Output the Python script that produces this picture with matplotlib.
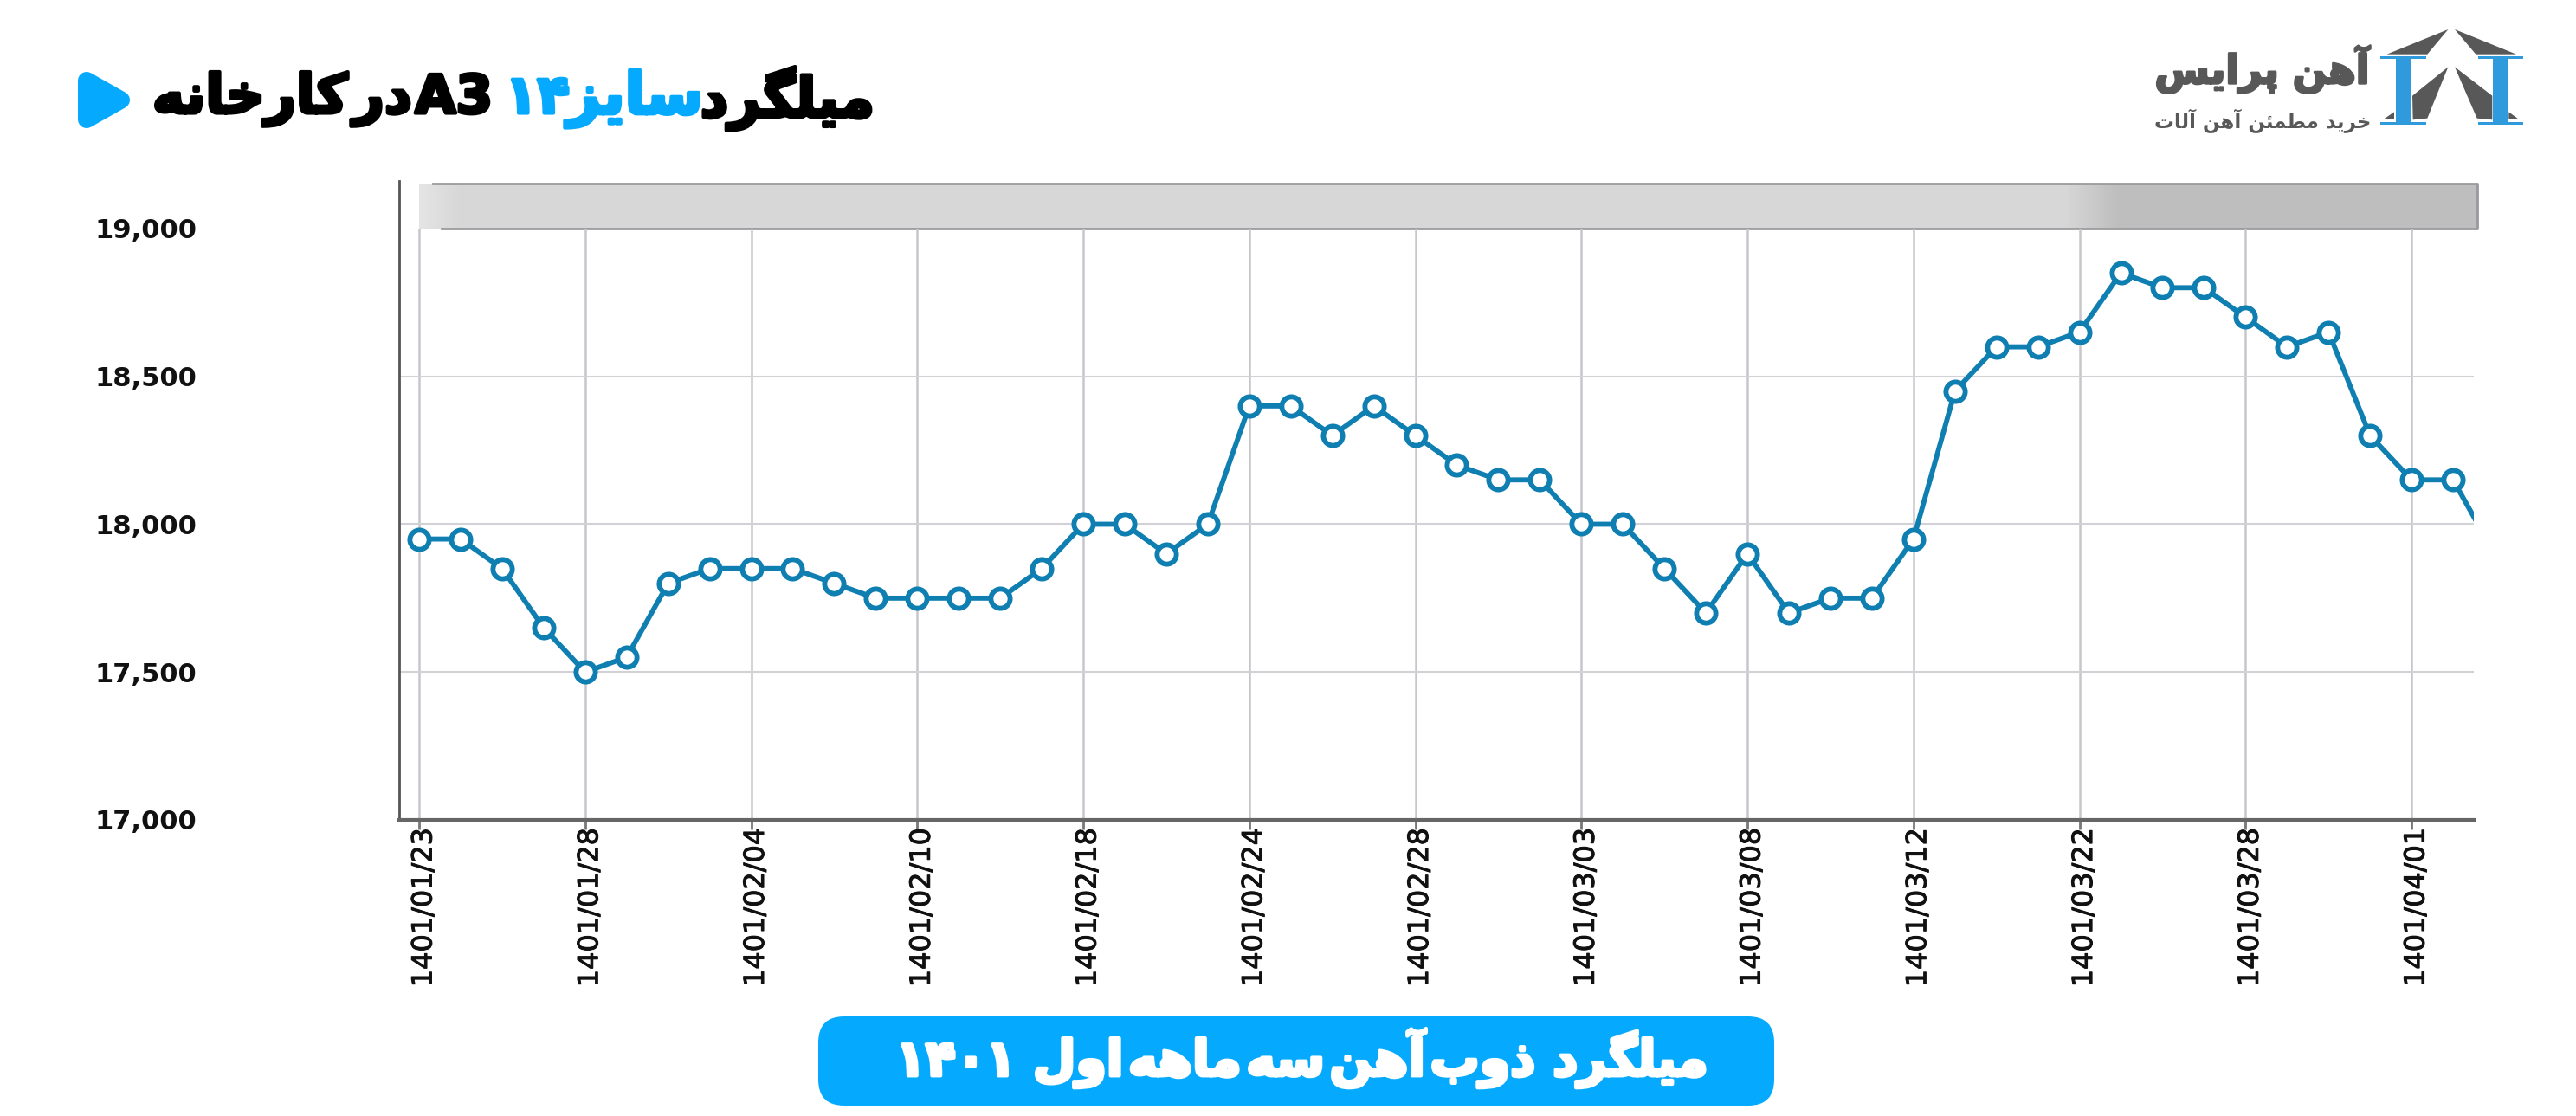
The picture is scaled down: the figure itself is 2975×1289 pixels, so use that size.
import unicodedata
import numpy as np
import matplotlib
matplotlib.use("Agg")
import matplotlib.pyplot as plt
import matplotlib.patheffects as pe
from matplotlib.patches import FancyBboxPatch, Polygon, Rectangle
from matplotlib.transforms import ScaledTranslation

W, H = 2975, 1289

# one value per point, a date label on every 4th point
prices = [17950, 17950, 17850, 17650, 17500, 17550, 17800, 17850, 17850, 17850,
          17800, 17750, 17750, 17750, 17750, 17850, 18000, 18000, 17900, 18000,
          18400, 18400, 18300, 18400, 18300, 18200, 18150, 18150, 18000, 18000,
          17850, 17700, 17900, 17700, 17750, 17750, 17950, 18450, 18600, 18600,
          18650, 18850, 18800, 18800, 18700, 18600, 18650, 18300, 18150, 18150,
          17900]
date_labels = ["1401/01/23", "1401/01/28", "1401/02/04", "1401/02/10", "1401/02/18",
               "1401/02/24", "1401/02/28", "1401/03/03", "1401/03/08", "1401/03/12",
               "1401/03/22", "1401/03/28", "1401/04/01"]
y_ticks = [17000, 17500, 18000, 18500, 19000]

BLUE = "#05A9FD"
LOGO_GRAY = "#585858"
LOGO_BLUE = "#2F9BDC"
LINE = "#0F7FB2"
RIGHT_ONLY = set("اآأدذرزژو")
GAP = "\u200a"


def form(ch, kind):
    try:
        return unicodedata.lookup(unicodedata.name(ch) + " " + kind + " FORM")
    except KeyError:
        return ch


# matplotlib does not shape arabic script, so pick the joined glyphs by hand
def fa(text):
    out = []
    for i, ch in enumerate(text):
        if not "\u0620" <= ch <= "\u06d5":
            out.append(ch)
            continue
        prev = text[i - 1] if i > 0 else " "
        nxt = text[i + 1] if i + 1 < len(text) else " "
        joins_prev = ("\u0620" <= prev <= "\u06d5") and prev not in RIGHT_ONLY
        joins_next = ("\u0620" <= nxt <= "\u06d5") and ch not in RIGHT_ONLY
        if joins_prev and joins_next:
            out.append(form(ch, "MEDIAL"))
        elif joins_prev:
            out.append(form(ch, "FINAL"))
        elif joins_next:
            out.append(form(ch, "INITIAL"))
        else:
            out.append(form(ch, "ISOLATED"))
    return "".join(out[::-1])


fig = plt.figure(figsize=(W / 100, H / 100), dpi=100, facecolor="white")

# overlay in pixel coordinates for header, band, logo and caption
bg = fig.add_axes([0, 0, 1, 1], zorder=0)
bg.axis("off")

# grey band above the plot
stops = np.interp(np.arange(2377), [0, 45, 1900, 1960, 2377], [228, 215, 215, 190, 190])
bg.imshow(stops[None, :], cmap="gray", vmin=0, vmax=255, aspect="auto",
          extent=(484, 2861, 264, 212))
bg.plot([500, 2861, 2861, 510], [212, 212, 264, 264], color="#9a9a9e", lw=2)
bg.set_xlim(0, W)
bg.set_ylim(H, 0)

# play triangle
bg.add_patch(Polygon([[100, 93], [140, 115.5], [100, 138]], closed=True,
                     fc=BLUE, ec=BLUE, lw=14.4, joinstyle="round"))


def head(x, txt, color, size=46):
    bg.text(x, 114, txt, ha="right", va="center", fontsize=size, color=color,
            fontweight="bold", family="DejaVu Sans",
            path_effects=[pe.withStroke(linewidth=3, foreground=color)])


head(1010, fa("میلگرد"), "black")
head(812, fa("سایز"), BLUE, 48)
head(658, "۱۴", BLUE, 44)
head(569, "A3", "black", 44)
head(476, fa("در" + GAP + "کارخانه"), "black", 45)

gray_parts = [[(50, 128), (262, 42), (190, 128)],
              [(285, 42), (498, 128), (358, 128)],
              [(262, 172), (190, 350), (140, 355), (138, 272)],
              [(285, 172), (415, 272), (415, 355), (362, 350)],
              [(40, 352), (75, 328), (75, 352)],
              [(472, 328), (505, 352), (472, 352)]]
for part in gray_parts:
    bg.add_patch(Polygon([(2740 + a / 3, 20 + b / 3) for a, b in part], fc=LOGO_GRAY, ec="none"))
for x0, x1, wx0, wx1 in [(28, 185, 80, 135), (365, 522, 418, 472)]:
    for y0, y1 in [(135, 145), (362, 372)]:
        bg.add_patch(Rectangle((2740 + x0 / 3, 20 + y0 / 3), (x1 - x0) / 3, (y1 - y0) / 3,
                               fc=LOGO_BLUE, ec="none"))
    bg.add_patch(Rectangle((2740 + wx0 / 3, 20 + 140 / 3), (wx1 - wx0) / 3, 225 / 3,
                           fc=LOGO_BLUE, ec="none"))
bg.text(2737, 80, fa("آهن پرایس"), ha="right", va="center", fontsize=33, color=LOGO_GRAY,
        fontweight="bold", family="DejaVu Sans",
        path_effects=[pe.withStroke(linewidth=2, foreground=LOGO_GRAY)])
bg.text(2738, 140, fa("خرید مطمئن آهن آلات"), ha="right", va="center", fontsize=16.5,
        color=LOGO_GRAY, fontweight="bold", family="DejaVu Sans")

# caption pill
bg.add_patch(FancyBboxPatch((945, 1174), 1104, 103, boxstyle="round,pad=0,rounding_size=30",
                            fc=BLUE, ec="none"))
caption = "۱۴۰۱ " + fa("میلگرد ذوب" + GAP + "آهن" + GAP + "سه" + GAP + "ماهه" + GAP + "اول")
bg.text(1504, 1222, caption, ha="center", va="center",
        fontsize=41, color="white", fontweight="bold", family="DejaVu Sans",
        path_effects=[pe.withStroke(linewidth=3, foreground="white")])

# chart: 17000 at y=947, 19000 at y=264, left spine at x=461, right end x=2857
ax = fig.add_axes([461 / W, 1 - 947 / H, (2857 - 461) / W, (947 - 264) / H], zorder=2)
ax.patch.set_alpha(0)
x = np.arange(len(prices))
ax.plot(x, prices, color=LINE, lw=4.2, marker="o", ms=16, mfc="white", mec=LINE, mew=4.2,
        clip_on=True, zorder=3)
ax.set_xlim(-0.48, 49.5)
ax.set_ylim(17000, 19000)
ax.set_xticks(x[::4][:len(date_labels)])
ax.set_xticklabels(date_labels, rotation=90, fontsize=23, color="#111111")
ax.set_yticks(y_ticks)
ax.set_yticklabels([f"{v:,}" for v in y_ticks], fontsize=22, fontweight="bold", color="#111111")
ax.tick_params(axis="x", length=8, width=2, color="#777777", pad=-2)
ax.tick_params(axis="y", length=0, pad=168)
shift = ScaledTranslation(6 / 100, 0, fig.dpi_scale_trans)
for lab in ax.get_xticklabels():
    lab.set_transform(lab.get_transform() + shift)
    lab.set_path_effects([pe.withStroke(linewidth=0.7, foreground="#111111")])
ax.grid(True, axis="x", color="#c6c6cc", lw=1.8)
ax.grid(True, axis="y", color="#d2d2d6", lw=1.5)
ax.set_axisbelow(True)
for s in ["top", "right"]:
    ax.spines[s].set_visible(False)
ax.spines["left"].set_color("#555555")
ax.spines["left"].set_linewidth(2)
ax.spines["left"].set_bounds(17000, 19160)
ax.spines["bottom"].set_color("#666666")
ax.spines["bottom"].set_linewidth(3)

fig.savefig("out.png", dpi=100)
